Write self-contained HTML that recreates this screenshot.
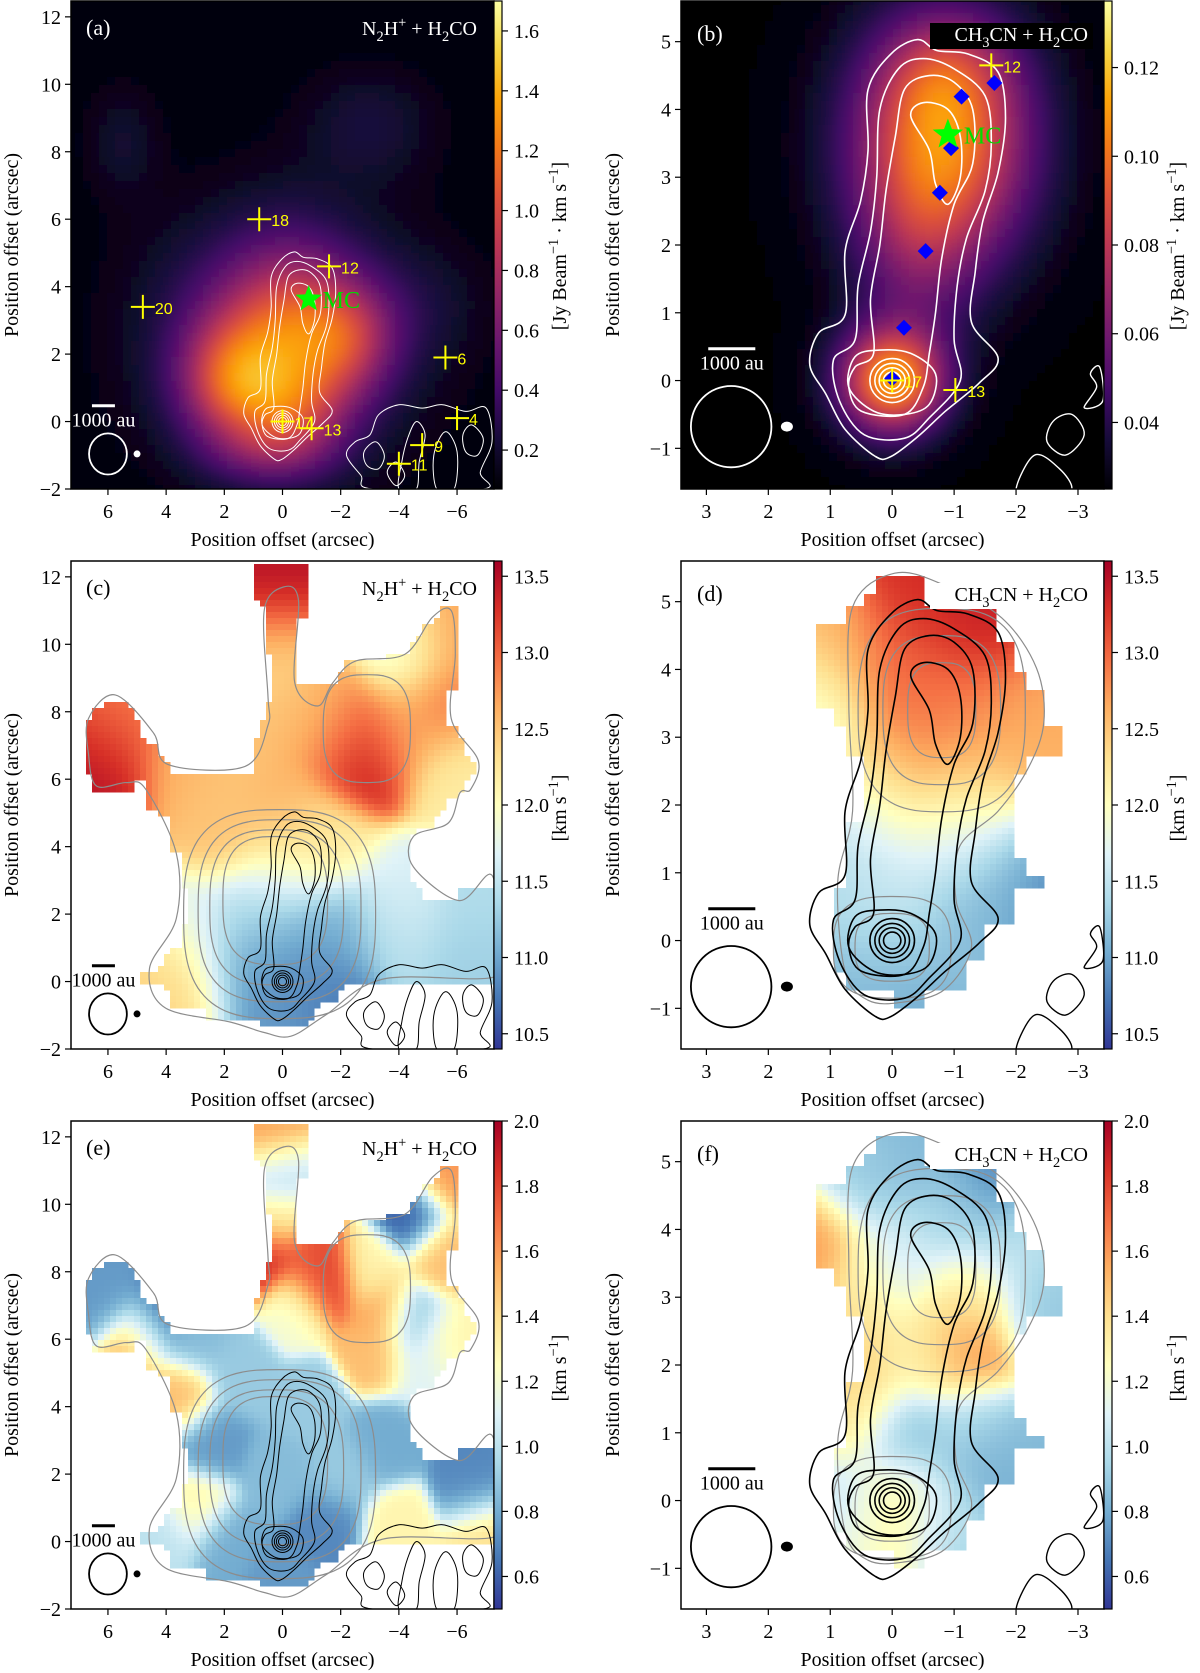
<!DOCTYPE html>
<html><head><meta charset="utf-8"><title>Moment maps</title>
<style>
html,body{margin:0;padding:0;background:#fff;}
svg{display:block;}
text{font-family:"Liberation Serif","DejaVu Serif",serif;}
.sans{font-family:"Liberation Sans","DejaVu Sans",sans-serif;}
</style></head>
<body>
<svg id="fig" xmlns="http://www.w3.org/2000/svg" width="1200" height="1673" viewBox="0 0 1200 1673"></svg>
<script>
// ---------------- DATA ----------------
const aBlobX=[1.8,-0.3,-2.3,0.0,5.5,-3.0,-0.3,0.5,-5.0,1.0];
const aBlobY=[1.2,2.3,2.5,2.5,8.3,8.8,0.2,-1.0,3.5,3.5];
const aBlobSx=[1.3,1.5,1.2,3.2,0.9,1.6,1.4,1.5,1.5,2.0];
const aBlobSy=[1.3,2.0,1.2,2.6,1.2,1.2,1.0,0.6,1.2,1.5];
const aBlobAmp=[0.7,0.6,0.5,0.3,0.12,0.15,0.35,0.2,0.08,0.15];
const aBase=0.08;
const bBlobX=[-0.8,0.0,-0.4,-0.9];
const bBlobY=[3.5,0.0,1.8,4.6];
const bBlobSx=[1.0,0.6,0.7,0.7];
const bBlobSy=[1.2,0.55,0.9,0.6];
const bBlobAmp=[0.08,0.085,0.02,0.02];
const bBase=0.025;
const cSampX=[6,5.5,3.5,2,0.3,0.3,-1,-2.8,-2,-4,-5.5,-6,-5.5,-4.2,0,2,0,-1.5,0,-4,-6.5,3,4,3,1.5,0,-1,0,-4,-6.5,1,-2,0,-1,1,-1.5];
const cSampY=[6.5,7.5,6.5,6,11.5,10,8,6.8,7.5,7.5,8.2,6.2,10.3,9.8,5,4.5,3.5,4,2.5,2.4,2.5,1.5,0.5,-0.5,0.5,0.5,0,-1,1.5,0.8,2,1.5,1.5,1,-0.5,-0.5];
const cSampV=[13.5,12.9,12.6,12.5,13.5,12.4,12.5,13.5,12.8,12.6,12.9,12.2,12.7,11.8,12.6,12.5,12.2,12.2,11.6,11.7,11.4,11.7,12.4,12.4,11.1,10.9,10.8,11.0,11.4,11.3,11.4,11.1,11.0,11.0,10.8,10.7];
const dSampX=[-0.5,-1.5,0,1,1.2,-1,-2.2,-2.5,-0.5,-1.5,0,-1.2,0.5,-1,-1.8,-2.3,-1.5,0,0.8,0,-0.2,-1,0.7];
const dSampY=[5,4.6,4,4.3,3.5,3.5,3.5,3,2.8,2.5,2.2,2.0,1.5,1.4,1.1,0.8,0.4,0.3,0.5,-0.5,-0.8,-0.3,-0.5];
const dSampV=[13.3,13.4,13.0,12.6,11.8,12.9,12.7,12.6,12.9,12.6,12.2,12.1,11.5,11.6,11.3,10.7,11.1,11.6,11.4,11.3,10.9,11.2,11.1];
const eSampX=[6,5,4.5,3,0.5,0.3,0.4,0.6,-1,-1.5,-0.5,-3,-3.5,-4.5,-5.5,-5.5,-4.5,-5.5,-3.2,-4.8,1.5,-1,2.5,3.5,0,-2,-3.5,-6.5,-6.8,-4,3,2,0,-1.5,4];
const eSampY=[7.2,6,6.5,6,12,11,9.5,8.5,8,7.7,7,8,6.8,9.7,10.8,8.5,6.5,6,5.6,5.2,5,4,3,4.3,2,2,3,1.5,0.3,0.3,1,0,-1.2,0.5,0.2];
const eSampV=[0.75,1.6,0.55,0.85,1.6,1.0,1.3,1.9,1.75,1.85,1.2,1.3,1.6,0.6,1.6,1.5,0.8,1.3,1.5,1.1,0.9,0.9,0.75,1.5,0.85,0.9,0.8,0.7,1.4,1.3,1.3,0.8,0.75,0.7,1.0];
const fSampX=[1.2,0.5,-0.5,-1.6,-1,-2,0.5,0,-1.2,-2.5,-1.2,-0.5,0.6,0.7,-0.2,-1.3,-1.5,0,0.8,-0.8,0,0.7,-1,-2];
const fSampY=[3.8,4.7,5.2,4.7,4.2,3.8,3.0,3.5,3,2.8,2.3,2.2,1.8,1.2,0.9,1,0.5,0,0,-0.2,-0.6,-0.6,-0.6,0.5];
const fSampV=[1.6,0.9,0.85,0.7,0.95,1.0,1.4,1.05,1.3,0.9,1.65,1.3,1.45,1.35,0.85,1.0,0.75,1.35,1.0,1.1,1.3,1.15,0.9,0.85];
const maskCEX=[1.02,-0.95,-0.68,-0.42,-0.68,-1.73,-2.13,-4.1,-4.76,-5.55,-5.94,-5.94,-5.68,-6.47,-6.93,-6.47,-5.94,-5.15,-4.23,-4.23,-5.15,-6.47,-7.3,-7.3,-2.52,-0.95,-0.68,0.3,1.02,3.52,3.92,4.77,3.92,3.13,3.52,3.92,4.7,4.7,6.28,6.54,6.8,6.8,6.28,5.36,4.31,3.78,1.02,1.02,0.76,0.24,0.63,1.02];
const maskCEY=[12.4,12.4,10.85,9.1,8.8,8.8,9.3,9.7,10.35,11.0,11.05,9.6,7.6,6.75,6.3,6.0,5.6,4.6,4.3,3.15,2.4,2.7,2.8,0.13,0.13,-1.09,-1.36,-1.36,-1.09,-0.88,-0.24,0.13,0.82,1.87,3.15,4.84,5.16,5.9,5.58,6.1,6.64,7.6,8.23,8.34,6.75,6.32,6.32,7.07,7.6,8.87,11.1,11.4];
const maskDFX=[0.27,-0.44,-0.57,-1.22,-1.71,-1.71,-1.96,-1.96,-2.2,-2.2,-2.45,-2.45,-2.7,-2.7,-2.2,-2.2,-1.96,-1.96,-2.2,-2.2,-2.45,-2.45,-1.96,-1.96,-1.46,-1.46,-1.22,-1.22,-0.44,-0.44,0.02,0.02,0.79,0.79,1.04,1.04,0.79,0.79,0.51,0.51,0.79,0.79,1.04,1.04,1.28,1.28,0.79,0.79,0.51,0.51,0.27];
const maskDFY=[5.34,5.34,4.92,4.84,4.84,4.34,4.34,3.84,3.84,3.6,3.6,3.1,3.1,2.6,2.6,2.36,2.36,1.12,1.12,0.86,0.86,0.62,0.62,0.36,0.36,-0.14,-0.14,-0.64,-0.64,-0.88,-0.88,-0.64,-0.64,-0.41,-0.41,0.62,0.62,1.62,1.62,2.6,2.6,3.13,3.13,3.37,3.37,4.6,4.6,4.84,4.84,5.08,5.08];
const filOuterX=[0.27,0.76,1.07,1.33,1.19,0.76,0.76,0.51,0.39,0.39,0.02,-0.41,-0.72,-1.22,-1.71,-1.83,-1.71,-1.46,-1.34,-1.28,-1.71,-1.4,-0.85,-0.41,0.02];
const filOuterY=[-1.12,-0.72,-0.2,0.23,0.7,0.97,1.91,2.65,3.39,4.29,4.82,5.03,4.87,4.82,4.55,3.87,3.07,2.34,1.6,0.86,0.33,-0.04,-0.46,-0.83,-1.12];
const filMid2X=[0.45,0.85,0.95,0.6,0.55,0.35,0.25,0.2,-0.1,-0.5,-1.0,-1.5,-1.6,-1.5,-1.2,-1.05,-1.0,-1.1,-0.6,-0.2];
const filMid2Y=[-0.8,-0.3,0.3,0.6,1.4,2.2,3.0,4.0,4.6,4.75,4.6,4.2,3.5,2.8,2.1,1.4,0.6,0.0,-0.55,-0.85];
const filMidX=[0.5,0.7,0.6,0.3,0.35,0.2,0.1,-0.05,-0.2,-0.6,-1.0,-1.3,-1.3,-1.0,-0.8,-0.7,-0.6,-0.5,-0.2];
const filMidY=[-0.45,-0.1,0.2,0.4,1.2,2.0,2.8,3.6,4.3,4.5,4.4,4.0,3.2,2.6,1.8,1.0,0.4,-0.1,-0.5];
const filInnerX=[-0.3,-0.5,-0.9,-1.1,-1.1,-0.9,-0.7,-0.6];
const filInnerY=[3.9,4.1,4.0,3.6,3.0,2.6,2.9,3.4];
const filLowX=[0.7,0.6,0.2,-0.3,-0.7,-0.6,-0.2,0.3];
const filLowY=[-0.1,0.35,0.45,0.4,0.1,-0.35,-0.5,-0.45];
const coreRingR=[0.36,0.28,0.21,0.14];
const noiseACEX=[-2.2,-2.5,-3.0,-3.3,-4.0,-4.8,-5.5,-6.3,-7.0,-7.2,-6.8,-6.9,-3.1,-2.7];
const noiseACEY=[-1.0,-0.6,-0.4,0.2,0.5,0.4,0.5,0.3,0.4,-0.6,-1.5,-2.0,-2.0,-1.6];
const noise2X=[-4.0,-4.1,-4.3,-4.6,-4.9,-4.7,-4.6];
const noise2Y=[-2.0,-1.2,-0.5,0.0,-0.4,-1.2,-2.0];
const noise3X=[-5.3,-5.2,-5.6,-6.0,-5.9];
const noise3Y=[-2.0,-1.0,-0.3,-0.9,-2.0];
const noise4X=[-2.8,-3.2,-3.5,-3.3,-2.9];
const noise4Y=[-0.9,-0.6,-1.0,-1.4,-1.3];
const noise5X=[-6.2,-6.5,-6.9,-6.7,-6.3];
const noise5Y=[-0.4,-0.1,-0.5,-1.0,-0.9];
const noise6X=[-3.6,-3.9,-4.2,-3.9];
const noise6Y=[-1.5,-1.2,-1.6,-1.9];
const noiseBDF1X=[-2.0,-2.3,-2.7,-2.9,-2.6,-2.2];
const noiseBDF1Y=[-1.6,-1.1,-1.3,-1.6,-1.75,-1.75];
const noiseBDF2X=[-2.6,-2.9,-3.1,-2.8,-2.5];
const noiseBDF2Y=[-0.6,-0.5,-0.8,-1.1,-0.9];
const noiseBDF3X=[-3.2,-3.35,-3.4,-3.1,-3.3];
const noiseBDF3Y=[0.1,0.2,-0.3,-0.4,-0.1];
const grayOuterCEX=[6.67,5.75,4.44,3.92,1.29,0.5,0.5,0.63,-0.03,-0.55,-0.42,-1.21,-1.73,-2.5,-4.2,-5.15,-5.8,-5.94,-5.8,-6.73,-6.47,-6.1,-5.7,-4.5,-4.5,-6.07,-7.2,-7.4,-7.25,-3.44,-1.47,-0.29,0.63,1.8,4.05,4.57,3.65,3.65,4.7,5.36,6.4,6.67];
const grayOuterCEY=[7.8,8.5,7.38,6.43,6.38,7.6,8.44,11.0,11.7,11.3,8.87,8.17,8.86,9.5,9.7,10.8,11.0,9.7,7.8,6.55,5.7,5.6,4.7,4.3,3.4,2.4,3.15,1.0,0.13,0.07,-1.0,-1.62,-1.51,-1.2,-0.77,0.39,1.87,3.8,5.7,5.9,5.8,6.75];
const grayCECx=[0.1,0.1,0.2,0.25,-2.9];
const grayCECy=[2.0,2.1,2.2,2.4,7.5];
const grayCERx=[3.3,2.8,2.3,1.8,1.5];
const grayCERy=[3.1,2.7,2.3,1.9,1.6];
const grayOuterDFX=[0.39,0.76,0.88,0.64,0.7,0.64,-0.04,-0.85,-1.77,-2.33,-2.45,-2.2,-1.71,-1.09,-1.03,-1.28,-0.85,-0.17];
const grayOuterDFY=[-0.88,-0.46,0.86,1.91,3.5,4.92,5.42,5.24,4.76,4.02,3.23,2.55,1.91,1.39,0.6,-0.09,-0.72,-0.91];
const grayDFCx=[-0.8,-0.8,-0.8,0.0,0.0];
const grayDFCy=[3.4,3.4,3.4,-0.1,-0.1];
const grayDFRx=[1.35,0.95,0.55,0.95,0.6];
const grayDFRy=[1.5,1.1,0.7,0.75,0.5];
const aSrcLabel=['18','12','20','6','17','13','4','9','11'];
const aSrcX=[0.8,-1.6,4.8,-5.6,0.0,-1.0,-6.0,-4.8,-4.0];
const aSrcY=[6.0,4.6,3.4,1.9,0.0,-0.2,0.1,-0.7,-1.25];
const bSrcLabel=['12','17','13'];
const bSrcX=[-1.6,0.0,-1.02];
const bSrcY=[4.65,0.0,-0.14];
const diamondX=[-1.65,-1.12,-0.95,-0.77,-0.54,-0.19,0.0];
const diamondY=[4.39,4.19,3.43,2.77,1.91,0.78,0.03];
const mcX=-0.9, mcY=3.63;
const ticksYLeft=[-2,0,2,4,6,8,10,12];
const ticksXLeft=[6,4,2,0,-2,-4,-6];
const ticksYRight=[-1,0,1,2,3,4,5];
const ticksXRight=[3,2,1,0,-1,-2,-3];
const cbTicksA=[0.2,0.4,0.6,0.8,1.0,1.2,1.4,1.6];
const cbTicksB=[0.04,0.06,0.08,0.10,0.12];
const cbTicksV=[10.5,11.0,11.5,12.0,12.5,13.0,13.5];
const cbTicksW=[0.6,0.8,1.0,1.2,1.4,1.6,1.8,2.0];

// ---------------- HELPERS ----------------
const NS='http://www.w3.org/2000/svg';
const svg=document.getElementById('fig');
function el(tag,attrs,parent){const e=document.createElementNS(NS,tag);for(const k in attrs)e.setAttribute(k,attrs[k]);(parent||svg).appendChild(e);return e;}
const INF=['#000004','#160b39','#420a68','#6a176e','#932667','#bc3754','#dd513a','#f37819','#fca50a','#f6d746','#fcffa4'];
const RDY=['#313695','#4575b4','#74add1','#abd9e9','#e0f3f8','#ffffbf','#fee090','#fdae61','#f46d43','#d73027','#a50026'];
function hx(c){return [parseInt(c.substr(1,2),16),parseInt(c.substr(3,2),16),parseInt(c.substr(5,2),16)];}
function cmap(stops,t){t=Math.max(0,Math.min(1,t));const n=stops.length-1;const i=Math.min(n-1,Math.floor(t*n));const f=t*n-i;const a=hx(stops[i]),b=hx(stops[i+1]);return 'rgb('+a.map((v,k)=>Math.round(v+(b[k]-v)*f)).join(',')+')';}
function gaussField(X,Y,SX,SY,A,base){return (x,y)=>{let s=base;for(let i=0;i<X.length;i++){const dx=(x-X[i])/SX[i],dy=(y-Y[i])/SY[i];s+=A[i]*Math.exp(-0.5*(dx*dx+dy*dy));}return s;};}
function interpField(X,Y,V,sig){return (x,y)=>{let w=0,s=0;for(let i=0;i<X.length;i++){const d2=(x-X[i])**2+(y-Y[i])**2;const wi=Math.exp(-d2/(2*sig*sig))+1e-9;w+=wi;s+=wi*V[i];}return s/w;};}
function inPoly(X,Y,x,y){let c=false;for(let i=0,j=X.length-1;i<X.length;j=i++){if(((Y[i]>y)!=(Y[j]>y))&&(x<(X[j]-X[i])*(y-Y[i])/(Y[j]-Y[i])+X[i]))c=!c;}return c;}
function smoothPath(pts,closed){
  const n=pts.length;let d='M'+pts[0][0].toFixed(1)+','+pts[0][1].toFixed(1);
  const P=i=>closed?pts[(i+n)%n]:pts[Math.max(0,Math.min(n-1,i))];
  const last=closed?n:n-1;
  for(let i=0;i<last;i++){const p0=P(i-1),p1=P(i),p2=P(i+1),p3=P(i+2);
    const c1=[p1[0]+(p2[0]-p0[0])/6,p1[1]+(p2[1]-p0[1])/6],c2=[p2[0]-(p3[0]-p1[0])/6,p2[1]-(p3[1]-p1[1])/6];
    d+='C'+c1[0].toFixed(1)+','+c1[1].toFixed(1)+' '+c2[0].toFixed(1)+','+c2[1].toFixed(1)+' '+p2[0].toFixed(1)+','+p2[1].toFixed(1);}
  return d+(closed?'Z':'');}
function richText(parent,x,y,parts,size,anchor,fill,transform){
  const t=el('text',{x:x,y:y,'font-size':size,'text-anchor':anchor||'start',fill:fill||'#000'},parent);
  if(transform)t.setAttribute('transform',transform);
  let shift=0;
  parts.forEach(p=>{const ts=el('tspan',{},t);ts.textContent=p[0];
    const want=p[1]==='sub'?size*0.3:(p[1]==='sup'?-size*0.4:0);
    if(want!==shift){ts.setAttribute('dy',(want-shift).toFixed(1));shift=want;}
    if(p[1]!=='n')ts.setAttribute('font-size',(size*0.72).toFixed(1));});
  return t;}
function fmt(v,dec){const s=Math.abs(v).toFixed(dec);return (v<0?'\u2212':'')+s;}

// ---------------- PANELS ----------------
const W=423,H=488;
const panels=[
 {id:'a',L:71,T:1,xl:7.27,xr:-7.27,yb:-2,yt:12.47,kind:'int',side:'left'},
 {id:'b',L:681,T:1,xl:3.41,xr:-3.42,yb:-1.6,yt:5.6,kind:'int',side:'right'},
 {id:'c',L:71,T:561,xl:7.27,xr:-7.27,yb:-2,yt:12.47,kind:'vel',side:'left'},
 {id:'d',L:681,T:561,xl:3.41,xr:-3.42,yb:-1.6,yt:5.6,kind:'vel',side:'right'},
 {id:'e',L:71,T:1121,xl:7.27,xr:-7.27,yb:-2,yt:12.47,kind:'wid',side:'left'},
 {id:'f',L:681,T:1121,xl:3.41,xr:-3.42,yb:-1.6,yt:5.6,kind:'wid',side:'right'}
];
const defs=el('defs',{});
const blur=el('filter',{id:'soft',x:'-5%',y:'-5%',width:'110%',height:'110%'},defs);
el('feGaussianBlur',{stdDeviation:'4'},blur);

panels.forEach(p=>{
  const sx=v=>p.L+(p.xl-v)/(p.xl-p.xr)*W;
  const sy=v=>p.T+(p.yt-v)/(p.yt-p.yb)*H;
  const ux=v=>v/(p.xl-p.xr)*W, uy=v=>v/(p.yt-p.yb)*H;
  const dark=p.kind==='int';
  const fg=dark?'#fff':'#000';
  const g=el('g',{});
  
  
  const cp=el('clipPath',{id:'clip-'+p.id},defs);
  el('rect',{x:p.L,y:p.T,width:W,height:H},cp);

  let field,lo,hi,stops,ticks,dec,maskX=null,maskY=null,bs=0;
  if(p.id==='a'){field=gaussField(aBlobX,aBlobY,aBlobSx,aBlobSy,aBlobAmp,aBase);lo=0.07;hi=1.70;stops=INF;ticks=cbTicksA;dec=1;}
  if(p.id==='b'){field=gaussField(bBlobX,bBlobY,bBlobSx,bBlobSy,bBlobAmp,bBase);lo=0.025;hi=0.135;stops=INF;ticks=cbTicksB;dec=2;}
  if(p.id==='c'){field=interpField(cSampX,cSampY,cSampV,0.9);lo=10.4;hi=13.6;stops=RDY;ticks=cbTicksV;dec=1;maskX=maskCEX;maskY=maskCEY;bs=0.27;}
  if(p.id==='d'){field=interpField(dSampX,dSampY,dSampV,0.55);lo=10.4;hi=13.6;stops=RDY;ticks=cbTicksV;dec=1;maskX=maskDFX;maskY=maskDFY;bs=0.245;}
  if(p.id==='e'){field=interpField(eSampX,eSampY,eSampV,0.6);lo=0.5;hi=2.0;stops=RDY;ticks=cbTicksW;dec=1;maskX=maskCEX;maskY=maskCEY;bs=0.27;}
  if(p.id==='f'){field=interpField(fSampX,fSampY,fSampV,0.45);lo=0.5;hi=2.0;stops=RDY;ticks=cbTicksW;dec=1;maskX=maskDFX;maskY=maskDFY;bs=0.245;}

  const imgClip=el('g',{'clip-path':'url(#clip-'+p.id+')'},g);
  
  
  el('rect',{x:p.L,y:p.T,width:W,height:H,fill:dark?'#000004':'#fff'},imgClip);
  const img=el('g',{'shape-rendering':'crispEdges'},imgClip);
  if(dark)img.setAttribute('filter','url(#soft)');
  const cell=dark?8:6;
  const dxu=(p.xl-p.xr)/W*cell, dyu=(p.yt-p.yb)/H*cell;
  for(let yv=p.yt+dyu*1.5; yv>p.yb-dyu*2; yv-=dyu){
    for(let xv=p.xl+dxu*1.5; xv>p.xr-dxu*2; xv-=dxu){
      const xc=xv-dxu/2, yc=yv-dyu/2;
      if(maskX){const bx=(Math.floor(xc/bs)+0.5)*bs, by=(Math.floor(yc/bs)+0.5)*bs;if(!inPoly(maskX,maskY,bx,by))continue;}
      const v=field(xc,yc);
      const r=el('rect',{x:sx(xv).toFixed(1),y:sy(yv).toFixed(1),width:(cell+0.6),height:(cell+0.6),fill:cmap(stops,(v-lo)/(hi-lo))},img);
      
      
    }
  }

  const ct=el('g',{'clip-path':'url(#clip-'+p.id+')',fill:'none','stroke-linejoin':'round'},g);
  
  
  const poly=(X,Y,stroke,w,name)=>{const pts=X.map((x,i)=>[sx(x),sy(Y[i])]);const pa=el('path',{d:smoothPath(pts,true),stroke:stroke,'stroke-width':w},ct);return pa;};
  const superE=(cx,cy,rx,ry,stroke,w,name)=>{const pts=[];for(let k=0;k<48;k++){const a=k/48*2*Math.PI;const c=Math.cos(a),s=Math.sin(a);pts.push([sx(cx+rx*Math.sign(c)*Math.pow(Math.abs(c),0.7)),sy(cy+ry*Math.sign(s)*Math.pow(Math.abs(s),0.7))]);}const pa=el('path',{d:smoothPath(pts,true),stroke:stroke,'stroke-width':w},ct);};
  if(!dark){
    if(p.side==='left'){poly(grayOuterCEX,grayOuterCEY,'#8c8c8c',1.2,'n2h-contour-outer');grayCECx.forEach((c,i)=>superE(c,grayCECy[i],grayCERx[i],grayCERy[i],'#8c8c8c',1.2,'n2h-contour'));}
    else{poly(grayOuterDFX,grayOuterDFY,'#8c8c8c',1.2,'n2h-contour-outer');grayDFCx.forEach((c,i)=>superE(c,grayDFCy[i],grayDFRx[i],grayDFRy[i],'#8c8c8c',1.2,'n2h-contour'));}
  }
  const lw=p.side==='left'?1.0:1.6;
  poly(filOuterX,filOuterY,fg,lw,'h2co-contour-outer');
  poly(filMid2X,filMid2Y,fg,lw,'h2co-contour-mid2');
  poly(filMidX,filMidY,fg,lw,'h2co-contour-mid');
  poly(filInnerX,filInnerY,fg,lw,'h2co-contour-inner');
  poly(filLowX,filLowY,fg,lw,'h2co-contour-core');
  coreRingR.forEach(r=>{const e=el('ellipse',{cx:sx(0),cy:sy(0),rx:ux(r),ry:uy(r*0.9),stroke:fg,'stroke-width':lw},ct);});
  if(p.side==='left'){poly(noiseACEX,noiseACEY,fg,1,'noise-contour');poly(noise2X,noise2Y,fg,1,'noise-contour');poly(noise3X,noise3Y,fg,1,'noise-contour');poly(noise4X,noise4Y,fg,1,'noise-contour');poly(noise5X,noise5Y,fg,1,'noise-contour');poly(noise6X,noise6Y,fg,1,'noise-contour');}
  else{poly(noiseBDF1X,noiseBDF1Y,fg,1.4,'noise-contour');poly(noiseBDF2X,noiseBDF2Y,fg,1.4,'noise-contour');poly(noiseBDF3X,noiseBDF3Y,fg,1.4,'noise-contour');}

  const bx=p.side==='left'?6.0:2.6, by=p.side==='left'?-0.96:-0.68;
  const beam=el('ellipse',{cx:sx(bx),cy:sy(by),rx:ux(0.65),ry:uy(p.side==='left'?0.61:0.6),fill:'none',stroke:fg,'stroke-width':1.8},g);
  
  
  const dbx=p.side==='left'?5.0:1.7;
  const dot=el('ellipse',{cx:sx(dbx),cy:sy(by),rx:p.side==='left'?3.5:6,ry:p.side==='left'?3.5:5,fill:fg},g);
  
  
  const s0=p.side==='left'?6.55:2.97, s1=p.side==='left'?5.76:2.21;
  const bar=el('line',{x1:sx(s0),x2:sx(s1),y1:sy(0.47),y2:sy(0.47),stroke:fg,'stroke-width':3},g);
  
  
  const st=el('text',{x:(sx(s0)+sx(s1))/2,y:sy(0.47)+21,'font-size':20,'text-anchor':'middle',fill:fg},g);
  st.textContent='1000 au';
  
  

  if(dark){
    const mk=el('g',{},g);
    
    
    if(p.id==='b'){diamondX.forEach((x,i)=>{const cx=sx(x),cy=sy(diamondY[i]);const d=el('polygon',{points:`${cx},${cy-8} ${cx+8},${cy} ${cx},${cy+8} ${cx-8},${cy}`,fill:'#0000ff'},mk);});}
    const L=p.id==='a'?aSrcLabel:bSrcLabel, X=p.id==='a'?aSrcX:bSrcX, Y=p.id==='a'?aSrcY:bSrcY;
    L.forEach((lab,i)=>{const cx=sx(X[i]),cy=sy(Y[i]);
      const c=el('path',{d:`M${cx-12},${cy}H${cx+12}M${cx},${cy-12}V${cy+12}`,stroke:'#ffff00','stroke-width':2},mk);
      
      
      const t=el('text',{x:cx+12,y:cy+7,'font-size':16,fill:'#ffff00',class:'sans'},mk);
      t.textContent=lab;
      
      });
    const cx=sx(mcX),cy=sy(mcY),R=p.id==='a'?14:16;let pts='';
    for(let k=0;k<10;k++){const a=-Math.PI/2+k*Math.PI/5;const r=k%2?R*0.42:R;pts+=(cx+r*Math.cos(a)).toFixed(1)+','+(cy+r*Math.sin(a)).toFixed(1)+' ';}
    const star=el('polygon',{points:pts,fill:'#00ff00'},mk);
    
    
    const mt=el('text',{x:cx+R,y:cy+9,'font-size':24,fill:'#00dd00'},mk);
    mt.textContent='MC';
    
    
  }

  const fr=el('rect',{x:p.L,y:p.T,width:W,height:H,fill:'none',stroke:'#000','stroke-width':1.5},g);
  
  

  const pl=el('text',{x:p.L+(p.side==='left'?15:16),y:p.T+(p.side==='left'?34:40),'font-size':22,fill:fg},g);
  pl.textContent='('+p.id+')';
  
  
  const parts=p.side==='left'?[['N','n'],['2','sub'],['H','n'],['+','sup'],[' + H','n'],['2','sub'],['CO','n']]:[['CH','n'],['3','sub'],['CN + H','n'],['2','sub'],['CO','n']];
  const tx=p.side==='left'?p.L+406:p.L+407, ty=p.side==='left'?p.T+34:p.T+40;
  if(p.side==='right'){const bb=el('rect',{x:p.L+249,y:p.T+22,width:163,height:26,fill:dark?'#000':'#fff'},g);}
  const tt=richText(g,tx,ty,parts,20,'end',fg);
  
  

  const ax=el('g',{},g);
  
  
  const ty2=p.side==='left'?ticksYLeft:ticksYRight, tx2=p.side==='left'?ticksXLeft:ticksXRight;
  ty2.forEach(v=>{const y=sy(v);el('line',{x1:p.L-6,x2:p.L,y1:y,y2:y,stroke:'#000','stroke-width':1.2},ax);
    const t=el('text',{x:p.L-10,y:y+7,'font-size':20,'text-anchor':'end'},ax);t.textContent=fmt(v,0);
    
    });
  tx2.forEach(v=>{const x=sx(v);el('line',{x1:x,x2:x,y1:p.T+H,y2:p.T+H+6,stroke:'#000','stroke-width':1.2},ax);
    const t=el('text',{x:x,y:p.T+H+29,'font-size':20,'text-anchor':'middle'},ax);t.textContent=fmt(v,0);
    
    });
  const xl=el('text',{x:p.L+W/2,y:p.T+H+57,'font-size':20,'text-anchor':'middle'},ax);
  xl.textContent='Position offset (arcsec)';
  
  
  const ylx=p.side==='left'?p.L-53:p.L-62, yly=p.T+H/2;
  const yl=el('text',{x:ylx,y:yly,'font-size':20,'text-anchor':'middle',transform:`rotate(-90 ${ylx} ${yly})`},ax);
  yl.textContent='Position offset (arcsec)';
  
  

  const cb=el('g',{},g);
  
  
  const gid='grad-'+p.id;
  const lg=el('linearGradient',{id:gid,x1:0,y1:1,x2:0,y2:0},defs);
  stops.forEach((c,i)=>el('stop',{offset:(i/(stops.length-1)),'stop-color':c},lg));
  const cbx=p.L+W, cbw=8;
  el('rect',{x:cbx,y:p.T,width:cbw,height:H,fill:`url(#${gid})`,stroke:'#000','stroke-width':1.2},cb);
  const cy=v=>p.T+H-(v-lo)/(hi-lo)*H;
  ticks.forEach(v=>{const y=cy(v);el('line',{x1:cbx+cbw,x2:cbx+cbw+6,y1:y,y2:y,stroke:'#000','stroke-width':1.2},cb);
    const t=el('text',{x:cbx+cbw+12,y:y+7,'font-size':20},cb);t.textContent=v.toFixed(dec);
    
    });
  const lx=cbx+(p.side==='left'?72:80), lyc=p.T+(dark?245:247);
  const lparts=dark?[['[Jy Beam','n'],['\u22121','sup'],[' \u00b7 km s','n'],['\u22121','sup'],[']','n']]:[['[km s','n'],['\u22121','sup'],[']','n']];
  const cl=richText(cb,lx,lyc,lparts,20,'middle','#000',`rotate(-90 ${lx} ${lyc})`);
  
  
});
</script>
</body></html>
